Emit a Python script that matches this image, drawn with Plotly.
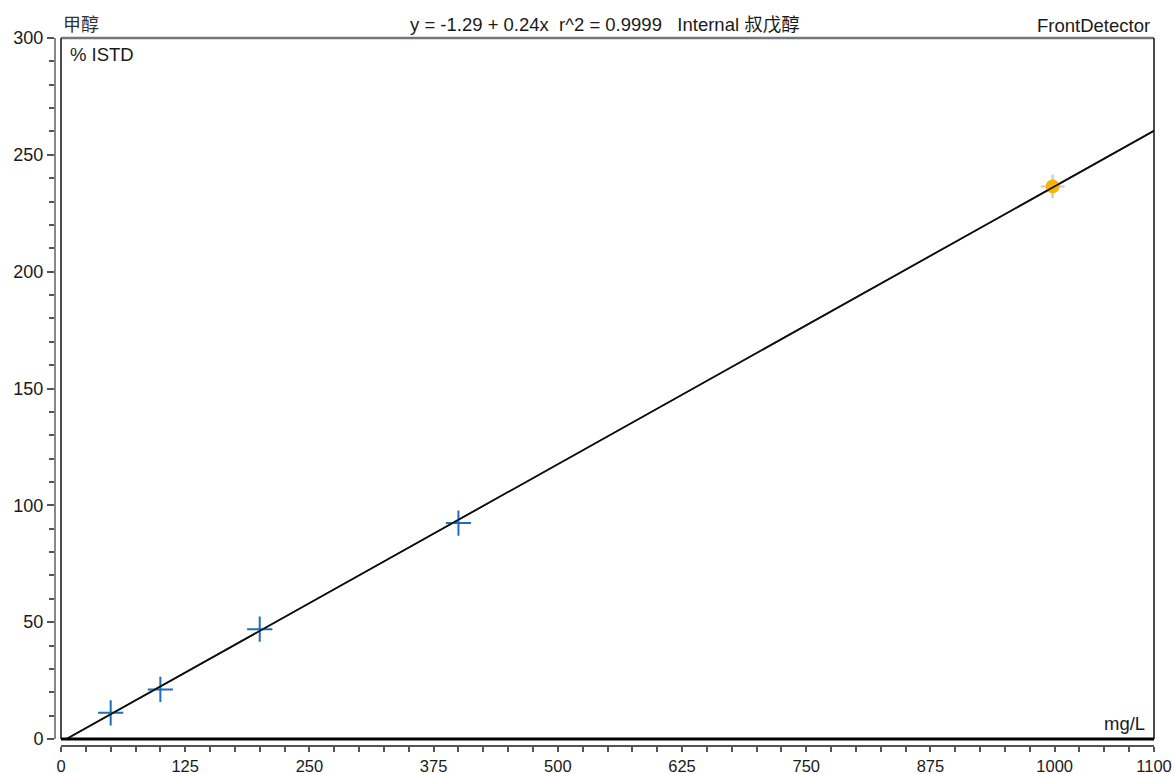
import plotly.graph_objects as go

# ---- data ----
cal_x = [50, 100, 200, 400]
cal_y = [11.2, 21.2, 47.0, 92.4]
sample_x = [998]
sample_y = [236.5]
fit_x = [0, 1100]
fit_intercept = -1.29
fit_slope = 0.2378
fit_y = [fit_intercept + fit_slope * v for v in fit_x]

x_ticks = [0, 125, 250, 375, 500, 625, 750, 875, 1000, 1100]
y_ticks = [0, 50, 100, 150, 200, 250, 300]

NB = "\u00a0"
title_text = ("y = -1.29 + 0.24x" + NB * 2 + "r^2 = 0.9999" + NB * 3 + "Internal 叔戊醇")
compound = "甲醇"
detector = "FrontDetector"
unit_y = "% ISTD"
unit_x = "mg/L"

FONT = "Liberation Sans, Arial, Noto Sans CJK SC, sans-serif"

fig = go.Figure()
fig.add_trace(go.Scatter(x=fit_x, y=fit_y, mode="lines",
                         line=dict(color="#111111", width=1.6),
                         hoverinfo="skip", showlegend=False))
fig.add_trace(go.Scatter(x=cal_x, y=cal_y, mode="markers",
                         marker=dict(symbol="cross-thin", size=18,
                                     line=dict(color="#1a6fb8", width=2)),
                         showlegend=False))
fig.add_trace(go.Scatter(x=sample_x, y=sample_y, mode="markers",
                         marker=dict(symbol="cross-thin", size=17,
                                     line=dict(color="#cfcfcf", width=2.5)),
                         showlegend=False))
fig.add_trace(go.Scatter(x=sample_x, y=sample_y, mode="markers",
                         marker=dict(symbol="circle", size=14, color="#f7b500",
                                     line=dict(width=0)),
                         showlegend=False))
# redraw fit line on top of sample marker
fig.add_trace(go.Scatter(x=fit_x, y=fit_y, mode="lines",
                         line=dict(color="#111111", width=1.6),
                         hoverinfo="skip", showlegend=False))

W, H = 1175, 774
ml, mr, mt, mb = 55, 21, 38, 28
pw = W - ml - mr
ph = H - mt - mb
xd0 = 6 / pw
yd0 = 7 / ph

TXT = "#1a1a1a"

fig.update_layout(
    width=W, height=H,
    margin=dict(l=ml, r=mr, t=mt, b=mb, autoexpand=False),
    paper_bgcolor="white", plot_bgcolor="white",
    font=dict(family=FONT, size=18, color=TXT),
    xaxis=dict(domain=[xd0, 1], range=[0, 1100], anchor="free", position=0,
               automargin=False,
               tickmode="array", tickvals=x_ticks, ticktext=[str(v) for v in x_ticks],
               ticks="outside", ticklen=5, tickwidth=1.5, tickcolor="#555555",
               showline=True, linecolor="#555555", linewidth=2,
               showgrid=False, zeroline=False,
               minor=dict(dtick=25, tick0=0, ticks="outside", ticklen=5,
                          tickwidth=1.5, tickcolor="#555555", showgrid=False),
               tickfont=dict(size=16.5, color=TXT)),
    yaxis=dict(domain=[yd0, 1], range=[0, 300], anchor="free", position=0,
               automargin=False,
               tickmode="array", tickvals=y_ticks,
               ticks="outside", ticklen=7, tickwidth=1.5, tickcolor="#555555",
               showline=True, linecolor="#888888", linewidth=2,
               showgrid=False, zeroline=False,
               minor=dict(dtick=10, tick0=0, ticks="outside", ticklen=5,
                          tickwidth=1.5, tickcolor="#555555", showgrid=False),
               tickfont=dict(size=18, color=TXT)),
    shapes=[
        dict(type="line", xref="paper", yref="paper", x0=xd0, x1=1, y0=1, y1=1,
             line=dict(color="#777777", width=2.5)),
        dict(type="line", xref="paper", yref="paper", x0=xd0, x1=xd0, y0=yd0, y1=1,
             line=dict(color="#111111", width=1.5)),
        dict(type="line", xref="paper", yref="paper", x0=1, x1=1, y0=yd0, y1=1,
             line=dict(color="#111111", width=1.5)),
        dict(type="line", xref="paper", yref="paper", x0=xd0, x1=1, y0=yd0, y1=yd0,
             line=dict(color="#000000", width=3)),
    ],
    annotations=[
        dict(text=compound, xref="paper", yref="paper", x=xd0, y=1,
             xanchor="left", yanchor="bottom", yshift=1, showarrow=False,
             font=dict(size=18, color="#333333")),
        dict(text=title_text, xref="paper", yref="paper", x=(605 - ml) / pw, y=1,
             xanchor="center", yanchor="bottom", yshift=1, showarrow=False,
             font=dict(size=18.5, color=TXT)),
        dict(text=detector, xref="paper", yref="paper", x=1, y=1,
             xanchor="right", yanchor="bottom", yshift=0, xshift=-2, showarrow=False,
             font=dict(size=18.5, color=TXT)),
        dict(text=unit_y, xref="paper", yref="paper", x=xd0, y=1,
             xanchor="left", yanchor="top", xshift=7, yshift=-4, showarrow=False,
             font=dict(size=18.5, color=TXT)),
        dict(text=unit_x, xref="paper", yref="paper", x=1, y=yd0,
             xanchor="right", yanchor="bottom", xshift=-7, yshift=3, showarrow=False,
             font=dict(size=18.5, color=TXT)),
    ],
)

fig.write_html(
    "out.html",
    config={"displayModeBar": False},
    post_script="document.body.style.margin='0';document.body.style.padding='0';"
                "document.body.style.overflow='hidden';",
)
